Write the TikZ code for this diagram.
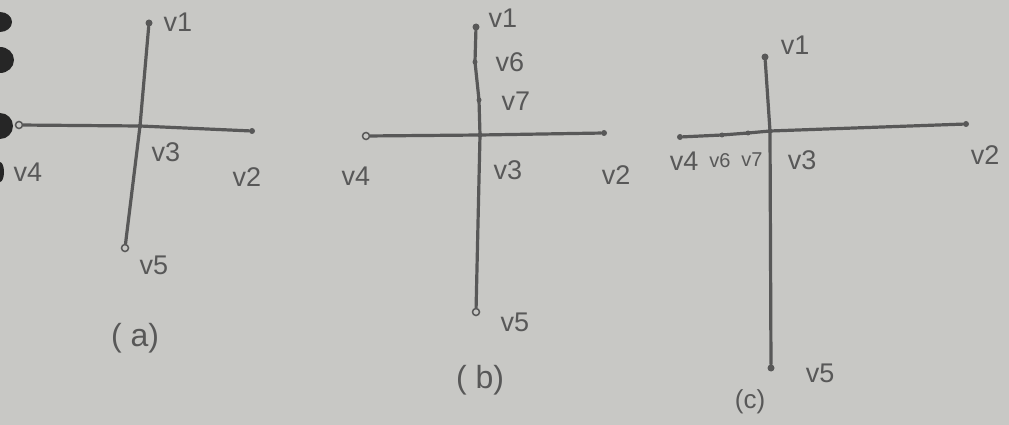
\documentclass[tikz,border=0pt]{standalone}
\usepackage{fontspec}
\setmainfont{Liberation Sans}
\begin{document}
\begin{tikzpicture}[x=1pt,y=-1pt,
  edge/.style={draw=inkgray,line width=3.2pt,line cap=round},
  vtx/.style={circle,fill=inkgray,inner sep=0pt,minimum size=7pt},
  hvtx/.style={circle,draw=inkgray,fill=papergray,line width=1.5pt,inner sep=0pt,minimum size=7pt},
  lbl/.style={text=inkgray,font=\fontsize{27}{30}\selectfont,inner sep=0pt},
  captxt/.style={text=inkgray,font=\fontsize{32}{36}\selectfont,inner sep=0pt}]
\definecolor{papergray}{RGB}{200,200,197}
\definecolor{inkgray}{RGB}{88,88,88}
\useasboundingbox (0,0) rectangle (1009,425);
\fill[papergray] (0,0) rectangle (1009,425);
% binder holes
\fill[black!85] (0,22) ellipse (12pt and 10pt);
\fill[black!85] (0,60) ellipse (14pt and 13pt);
\fill[black!85] (0,126) ellipse (13pt and 13pt);
\fill[black!85] (0,172) ellipse (4pt and 10pt);
% (a)
\node[vtx] (a1) at (149,23) {};
\node[vtx,minimum size=5pt] (a3) at (140,126) {};
\node[hvtx] (a4) at (19,125) {};
\node[vtx,minimum size=6pt] (a2) at (252,131) {};
\node[hvtx] (a5) at (125,248) {};
\draw[edge] (a1) -- (a3.center) -- (a5);
\draw[edge] (a4) -- (a3.center) -- (a2);
\node[lbl] (la1) at (178,22) {v1};
\node[lbl] (la3) at (166,152) {v3};
\node[lbl] (la4) at (28,172) {v4};
\node[lbl] (la2) at (247,177) {v2};
\node[lbl] (la5) at (154,265) {v5};
\node[captxt] (ca) at (135,338) {( a)};
% (b)
\node[vtx] (b1) at (476,27) {};
\node[vtx,minimum size=5pt] (b6) at (475,62) {};
\node[vtx,minimum size=5pt] (b7) at (479,100) {};
\node[vtx,minimum size=5pt] (b3) at (480,135) {};
\node[hvtx] (b4) at (366,136) {};
\node[vtx,minimum size=6pt] (b2) at (604,133) {};
\node[hvtx] (b5) at (476,312) {};
\draw[edge] (b1) -- (b6.center) -- (b7.center) -- (b3.center) -- (b5);
\draw[edge] (b4) -- (b3.center) -- (b2);
\node[lbl] (lb1) at (503,18) {v1};
\node[lbl] (lb6) at (510,62) {v6};
\node[lbl] (lb7) at (516,101) {v7};
\node[lbl] (lb3) at (508,170) {v3};
\node[lbl] (lb4) at (356,176) {v4};
\node[lbl] (lb2) at (616,175) {v2};
\node[lbl] (lb5) at (515,322) {v5};
\node[captxt] (cb) at (480,380) {( b)};
% (c)
\node[vtx] (c1) at (765,57) {};
\node[vtx,minimum size=5pt] (c3) at (770,131) {};
\node[vtx,minimum size=6pt] (c4) at (680,137) {};
\node[vtx,minimum size=5pt] (c6) at (722,135) {};
\node[vtx,minimum size=5pt] (c7) at (748,133) {};
\node[vtx,minimum size=6pt] (c2) at (966,124) {};
\node[vtx] (c5) at (771,368) {};
\draw[edge] (c1) -- (c3.center) -- (c5);
\draw[edge] (c4) -- (c6.center) -- (c7.center) -- (c3.center) -- (c2);
\node[lbl] (lc1) at (795,45) {v1};
\node[lbl] (lc4) at (684,161) {v4};
\node[lbl,font=\fontsize{20}{22}\selectfont] (lc6) at (720,161) {v6};
\node[lbl,font=\fontsize{20}{22}\selectfont] (lc7) at (752,160) {v7};
\node[lbl] (lc3) at (802,160) {v3};
\node[lbl] (lc2) at (985,155) {v2};
\node[lbl] (lc5) at (820,373) {v5};
\node[captxt,font=\fontsize{26}{30}\selectfont] (cc) at (750,402) {(c)};
\end{tikzpicture}
\end{document}
